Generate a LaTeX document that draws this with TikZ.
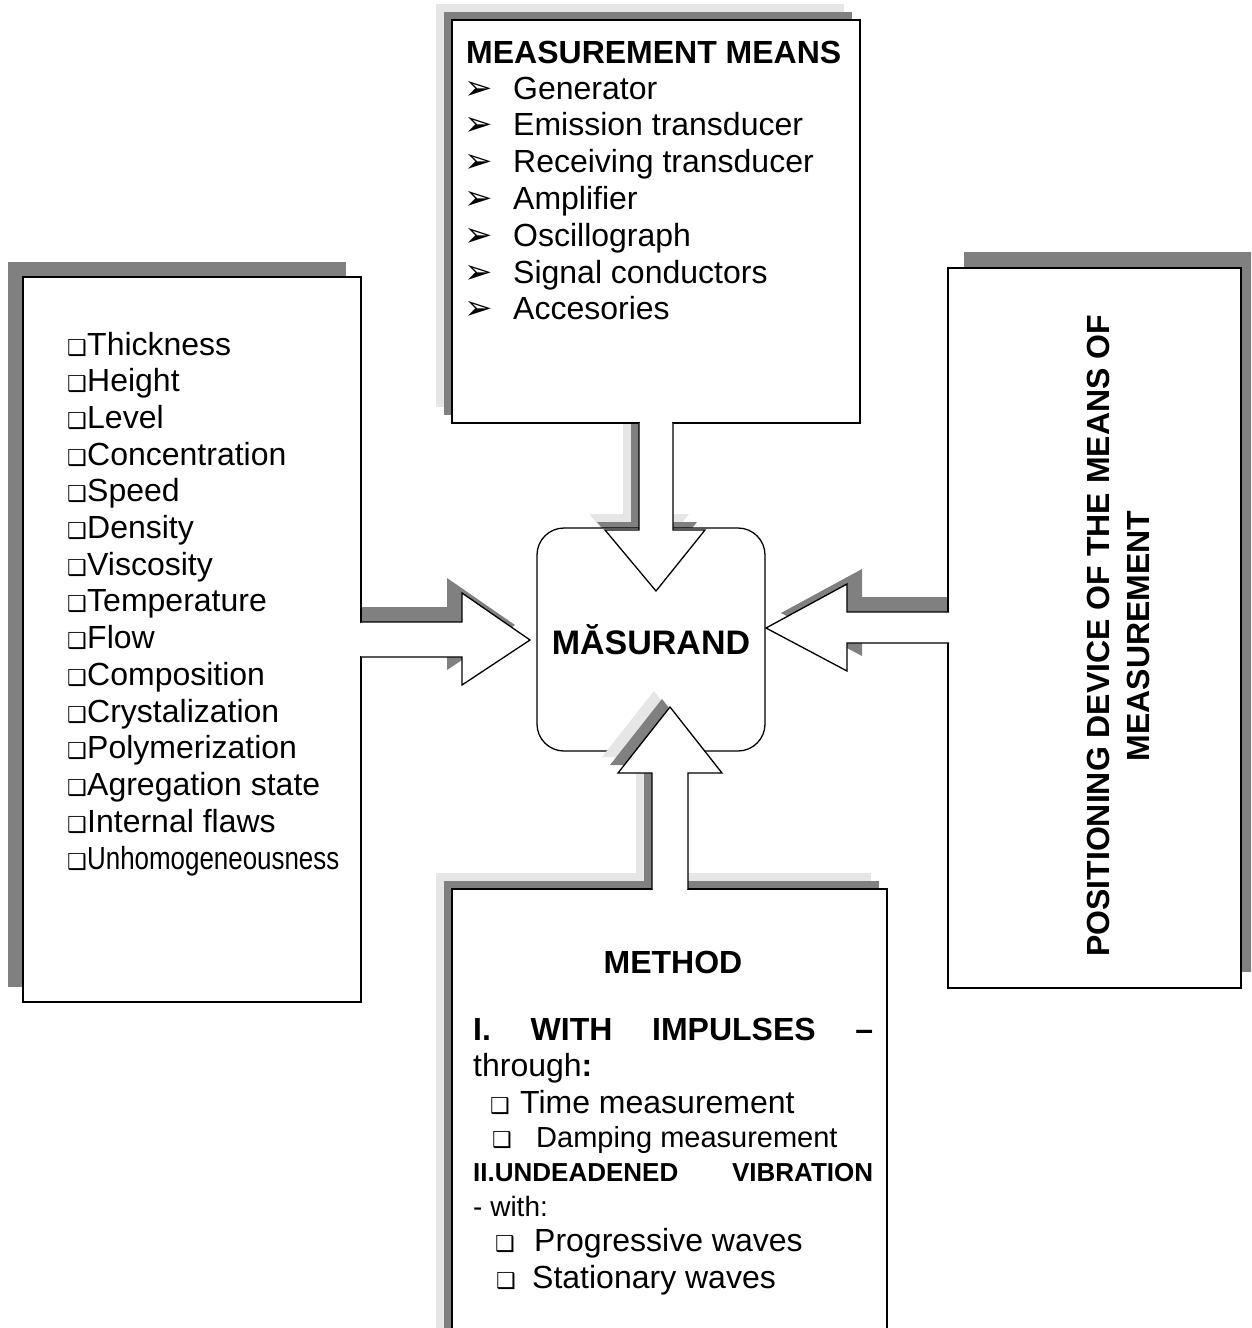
\documentclass[tikz,border=0pt]{standalone}
\usepackage{fontspec}
\usepackage{graphicx}
\setmainfont{Liberation Sans}
\newfontfamily\symfont{DejaVu Sans}
\usepackage{xcolor}

\definecolor{shadowdark}{HTML}{808080}
\definecolor{shadowlight}{HTML}{E6E6E6}

\newcommand{\arrbul}{{\symfont\fontsize{34}{34}\selectfont ➢}}
\newcommand{\sqbul}{{\symfont\fontsize{22}{22}\selectfont ❑}}

% block arrow outlines (open at the box side)
\newcommand{\leftarr}{(361,622) -- (462,622) -- (462,593) -- (530,640) -- (462,685) -- (462,657) -- (361,657)}
\newcommand{\rightarr}{(949,612) -- (847,612) -- (847,584) -- (766,628) -- (847,671) -- (847,643) -- (949,643)}
\newcommand{\toparr}{(639,423) -- (639,530) -- (605,530) -- (656,591) -- (705,530) -- (673,530) -- (673,423)}
\newcommand{\botarr}{(652,889) -- (652,773) -- (618,773) -- (670,707) -- (722,773) -- (688,773) -- (688,889)}

\begin{document}
\begin{tikzpicture}[x=1pt, y=-1pt,
    darksh/.style={fill=shadowdark},
    lightsh/.style={fill=shadowlight},
    boxframe/.style={draw, fill=white, line width=1.3pt},
    arrowline/.style={draw, line width=1.3pt, line join=miter},
    centre/.style={draw, fill=white, line width=1.3pt, rounded corners=27pt, minimum width=228pt, minimum height=223pt, inner sep=0pt, font=\fontsize{34}{40}\selectfont\bfseries},
    item/.style={anchor=base west, inner sep=0pt, font=\fontsize{32}{37}\selectfont},
    title/.style={item, font=\fontsize{32}{37}\selectfont\bfseries},
    bul/.style={anchor=base west, inner sep=0pt}
  ]
  \useasboundingbox (0,0) rectangle (1251,1328);
  \clip (0,0) rectangle (1251,1328);

  % Shadows
  \fill[lightsh] (436,4) rectangle (844,407);
  \fill[lightsh, shift={(-16,-16)}] \toparr;
  \fill[lightsh] (436,873) rectangle (871,1340);
  \fill[darksh] (8,262) rectangle (346,987);
  \fill[darksh, shift={(-15,-15)}] \leftarr;
  \fill[darksh] (444,12) rectangle (852,415);
  \fill[darksh, shift={(-8,-8)}] \toparr;
  \fill[darksh] (964,252) rectangle (1257,972);
  \fill[darksh, shift={(15,-15)}] \rightarr;
  \fill[darksh] (444,881) rectangle (879,1340);

  % Centre
  \node[centre] (masurand) at (651,639.5) {MĂSURAND};
  \fill[lightsh, shift={(-16,-16)}] \botarr;
  \fill[darksh, shift={(-8,-8)}] \botarr;

  % Boxes
  \draw[boxframe] (23,277) rectangle (361,1002);
  \draw[boxframe] (452,20) rectangle (860,423);
  \draw[boxframe] (948,268) rectangle (1241,988);
  \draw[boxframe] (452,889) rectangle (887,1340);

  % Block arrows
  \fill[white] \leftarr -- cycle;
  \fill[white] (354,623) rectangle (362,656);
  \draw[arrowline] \leftarr;
  \fill[white] \rightarr -- cycle;
  \fill[white] (948,613) rectangle (955,642);
  \draw[arrowline] \rightarr;
  \fill[white] \toparr -- cycle;
  \fill[white] (640,417) rectangle (672,424);
  \draw[arrowline] \toparr;
  \fill[white] \botarr -- cycle;
  \fill[white] (653,888) rectangle (687,895);
  \draw[arrowline] \botarr;

  % Measured quantities
  \foreach \q [count=\i from 0] in {Thickness, Height, Level, Concentration, Speed, Density, Viscosity, Temperature, Flow, Composition, Crystalization, Polymerization, Agregation state, Internal flaws}{
    \node[bul] (qb\i) at (67,355+36.7*\i) {\sqbul};
    \node[item] (q\i) at (87,355+36.7*\i) {\q};
  }
  \node[bul] (qb14) at (67,869) {\sqbul};
  \node[item] (q14) at (87,869) {\scalebox{0.81}[1]{Unhomogeneousness}};

  % Measurement means
  \node[title] (means) at (466,63) {MEASUREMENT MEANS};
  \foreach \m [count=\i from 0] in {Generator, Emission transducer, Receiving transducer, Amplifier, Oscillograph, Signal conductors, Accesories}{
    \node[bul] (mb\i) at (464,99+36.8*\i) {\arrbul};
    \node[item] (m\i) at (513,99+36.8*\i) {\m};
  }

  % Positioning device
  \node[rotate=90, inner sep=0pt, align=center, font=\fontsize{32}{40}\selectfont\bfseries] (device) at (1118,636) {POSITIONING DEVICE OF THE MEANS OF\\MEASUREMENT};

  % Method
  \node[title, anchor=base] (method) at (673,973) {METHOD};
  \node[title] (imp) at (473,1040) {\makebox[400pt][s]{I. WITH IMPULSES –}};
  \node[item] (through) at (473,1076) {through\textbf{:}};
  \node[bul] (tb) at (490,1113) {\sqbul};
  \node[item] (time) at (520,1113) {Time measurement};
  \node[bul] (db) at (492,1147) {\sqbul};
  \node[item, font=\fontsize{29}{34}\selectfont] (damp) at (536,1147) {Damping measurement};
  \node[item, font=\fontsize{26}{30}\selectfont\bfseries] (undead) at (473,1181) {\makebox[400pt][s]{II.UNDEADENED VIBRATION}};
  \node[item, font=\fontsize{28}{32}\selectfont] (with) at (473,1216) {- with:};
  \node[bul] (pb) at (495,1251) {\sqbul};
  \node[item] (prog) at (534,1251) {Progressive waves};
  \node[bul] (sb) at (496,1288) {\sqbul};
  \node[item] (stat) at (532,1288) {Stationary waves};
\end{tikzpicture}
\end{document}
